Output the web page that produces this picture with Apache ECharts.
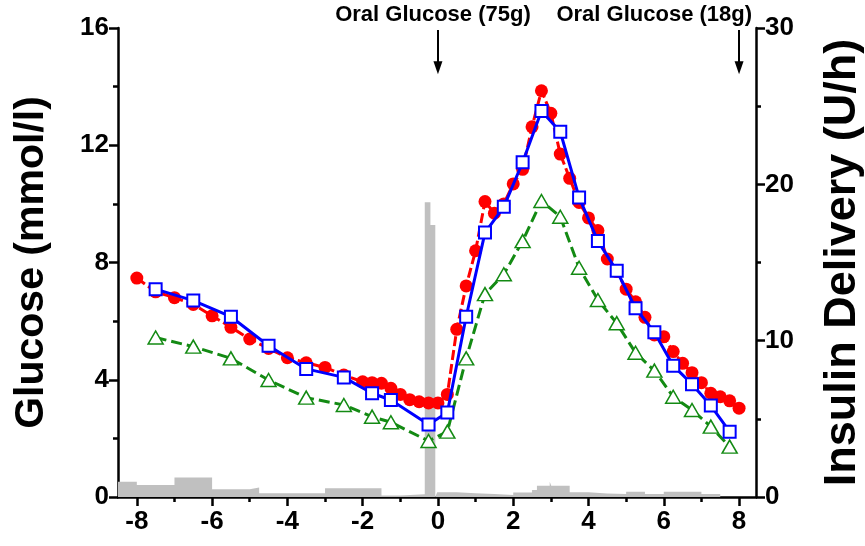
<!DOCTYPE html>
<html>
<head>
<meta charset="utf-8">
<script src="https://cdn.jsdelivr.net/npm/echarts@6/dist/echarts.min.js"></script>
<style>
  html, body { margin: 0; padding: 0; background: #fff; }
  #chart { width: 865px; height: 546px; }
</style>
</head>
<body>
<div id="chart"></div>
<script>
// Plasma glucose, hourly readings and half-hourly estimates, plus insulin delivery
const redHours = [-8, -7.5, -7, -6.5, -6, -5.5, -5, -4.5, -4, -3.5, -3, -2.5, -2,
  -1.75, -1.5, -1.25, -1, -0.75, -0.5, -0.25, 0,
  0.25, 0.5, 0.75, 1, 1.25, 1.5, 1.75, 2, 2.25, 2.5, 2.75, 3, 3.25, 3.5, 3.75, 4,
  4.25, 4.5, 4.75, 5, 5.25, 5.5, 5.75, 6, 6.25, 6.5, 6.75, 7, 7.25, 7.5, 7.75, 8];
const redGlucose = [7.47, 7.0, 6.8, 6.57, 6.18, 5.79, 5.39, 5.07, 4.75, 4.58, 4.42, 4.16, 3.93,
  3.90, 3.88, 3.71, 3.50, 3.32, 3.25, 3.21, 3.21,
  3.50, 5.72, 7.2, 8.40, 10.08, 9.68, 10.0, 10.68, 11.18, 12.63, 13.86, 13.09, 11.7, 10.87, 10.05, 9.52,
  9.09, 8.12, 7.69, 7.09, 6.66, 6.13, 5.53, 5.47, 4.96, 4.56, 4.24, 3.90, 3.54, 3.42, 3.28, 3.03];

const sampleHours = [-7.5, -6.5, -5.5, -4.5, -3.5, -2.5, -1.75, -1.25, -0.25, 0.25, 0.75, 1.25, 1.75,
  2.25, 2.75, 3.25, 3.75, 4.25, 4.75, 5.25, 5.75, 6.25, 6.75, 7.25, 7.75];
const blueGlucose = [7.09, 6.70, 6.15, 5.16, 4.37, 4.08, 3.54, 3.31, 2.47, 2.88, 6.15, 9.02, 9.90,
  11.42, 13.17, 12.46, 10.22, 8.73, 7.72, 6.44, 5.62, 4.48, 3.85, 3.12, 2.23];
const greenGlucose = [5.44, 5.13, 4.73, 3.99, 3.39, 3.14, 2.74, 2.55, 1.91, 2.23, 4.73, 6.92, 7.60,
  8.73, 10.1, 9.56, 7.82, 6.72, 5.93, 4.92, 4.31, 3.42, 2.97, 2.40, 1.72];

// Insulin delivery rate (U/h), each value held until the next time point
const insulinHours = [-8.5, -8, -7, -6, -5, -4.75, -3, -1.5, -1, -0.35, -0.2, -0.07, -0.02,
  0.5, 1, 1.5, 2, 2.5, 2.63, 2.97, 3.01, 3.5, 4, 4.5, 5, 5.5, 6, 7, 7.5];
const insulinRate = [0.98, 0.77, 1.24, 0.49, 0.6, 0.24, 0.56, 0.1, 0.17, 18.85, 17.4, 0, 0.3,
  0.24, 0.19, 0.13, 0.28, 0.45, 0.72, 0.98, 0.72, 0.3, 0.22, 0.19, 0.34, 0.19, 0.34, 0.19, 0];

const xMajorTicks = [-8, -6, -4, -2, 0, 2, 4, 6, 8];
const xMinorTicks = [-7, -5, -3, -1, 1, 3, 5, 7];

// Oral glucose loads: time (h) and label
const mealHours = [0, 8];
const mealLabels = ['Oral Glucose (75g)', 'Oral Glucose (18g)'];

const zip = (xs, ys) => xs.map((x, i) => [x, ys[i]]);

const FONT = '"Liberation Sans", Arial, sans-serif';
const NARROW = '"Liberation Sans Narrow", "Arial Narrow", "Liberation Sans", sans-serif';
const axisLineStyle = { color: '#000', width: 2.5 };
const labelStyle = { color: '#000', fontFamily: NARROW, fontWeight: 'bold', fontSize: 26 };
const tickStyle = { color: '#000', width: 2.5 };

const chart = echarts.init(document.getElementById('chart'), null, { renderer: 'canvas' });

const arrowTop = 15.93, arrowTip = 14.64;

const option = {
  animation: false,
  backgroundColor: '#fff',
  grid: { left: 118, right: 109, top: 28, bottom: 49, containLabel: false, outerBoundsMode: 'none' },
  xAxis: [
    {
      type: 'value', min: -8.5, max: 8.45,
      axisLine: { show: true, onZero: false, lineStyle: axisLineStyle },
      axisTick: { show: true, customValues: xMajorTicks, length: 9, lineStyle: tickStyle },
      axisLabel: { customValues: xMajorTicks, margin: 12, ...labelStyle },
      splitLine: { show: false }
    },
    {
      type: 'value', min: -8.5, max: 8.45, position: 'bottom',
      axisLine: { show: false, onZero: false },
      axisTick: { show: true, customValues: xMinorTicks, length: 5, lineStyle: tickStyle },
      axisLabel: { show: false },
      splitLine: { show: false }
    }
  ],
  yAxis: [
    {
      type: 'value', min: 0, max: 16, interval: 4, position: 'left',
      name: 'Glucose (mmol/l)', nameLocation: 'middle', nameGap: 66, nameRotate: 90,
      nameTextStyle: { color: '#000', fontFamily: FONT, fontWeight: 'bold', fontSize: 41 },
      axisLine: { show: true, onZero: false, lineStyle: axisLineStyle },
      axisTick: { show: true, length: 9, lineStyle: tickStyle },
      minorTick: { show: true, splitNumber: 2, length: 5, lineStyle: tickStyle },
      axisLabel: { margin: 9, ...labelStyle },
      splitLine: { show: false }
    },
    {
      type: 'value', min: 0, max: 30, interval: 10, position: 'right',
      name: 'Insulin Delivery (U/h)', nameLocation: 'middle', nameGap: 64, nameRotate: 90,
      nameTextStyle: { color: '#000', fontFamily: FONT, fontWeight: 'bold', fontSize: 45 },
      axisLine: { show: true, onZero: false, lineStyle: axisLineStyle },
      axisTick: { show: true, length: 9, lineStyle: tickStyle },
      minorTick: { show: true, splitNumber: 2, length: 5, lineStyle: tickStyle },
      axisLabel: { margin: 9, ...labelStyle },
      splitLine: { show: false }
    }
  ],
  series: [
    {
      name: 'Insulin', type: 'line', yAxisIndex: 1, step: 'end',
      data: zip(insulinHours, insulinRate),
      symbol: 'none', lineStyle: { width: 0 },
      areaStyle: { color: '#c0c0c0', opacity: 1 },
      z: 1
    },
    {
      name: 'Plasma glucose', type: 'line',
      data: zip(redHours, redGlucose),
      symbol: 'circle', symbolSize: 13, showAllSymbol: true,
      itemStyle: { color: '#ff0000', borderWidth: 0 },
      lineStyle: { color: '#ff0000', width: 3, type: [10, 4] },
      z: 3,
      markLine: {
        silent: true,
        symbol: ['none', 'triangle'], symbolSize: [9, 13],
        lineStyle: { color: '#000', width: 2, type: 'solid' },
        label: { show: false },
        data: mealHours.map(h => [{ coord: [h, arrowTop] }, { coord: [h, arrowTip] }])
      }
    },
    {
      name: 'Sensor glucose', type: 'line',
      data: zip(sampleHours, blueGlucose),
      symbol: 'rect', symbolSize: 12, showAllSymbol: true,
      itemStyle: { color: '#fff', borderColor: '#0000ff', borderWidth: 2 },
      lineStyle: { color: '#0000ff', width: 3 },
      z: 4
    },
    {
      name: 'Interstitial glucose', type: 'line',
      data: zip(sampleHours, greenGlucose),
      symbol: 'triangle', symbolSize: [15, 13], showAllSymbol: true,
      itemStyle: { color: '#fff', borderColor: '#138a13', borderWidth: 1.5 },
      lineStyle: { color: '#138a13', width: 3, type: [11, 5] },
      z: 2
    }
  ]
};

chart.setOption(option);

// Labels for the glucose loads, placed from the same times as the arrows
const labelOffsets = [{ dx: -5, align: 'center' }, { dx: 13, align: 'right' }];
chart.setOption({
  graphic: mealHours.map((h, i) => {
    const px = chart.convertToPixel({ xAxisIndex: 0 }, h);
    return {
      type: 'text',
      x: px + labelOffsets[i].dx, y: 15,
      style: {
        text: mealLabels[i], fill: '#000',
        font: 'bold 22px ' + FONT,
        textAlign: labelOffsets[i].align, textVerticalAlign: 'middle'
      }
    };
  })
});
</script>
</body>
</html>
